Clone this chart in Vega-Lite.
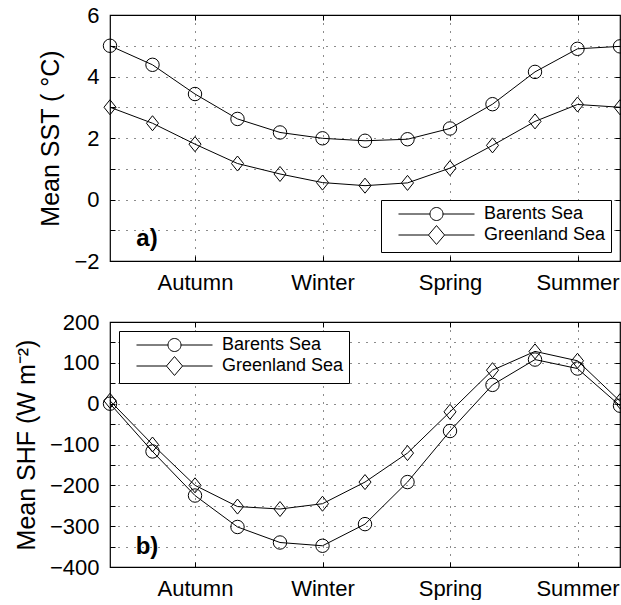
{
  "$schema": "https://vega.github.io/schema/vega-lite/v6.json",
  "padding": {"left": 13, "top": 3, "right": 0, "bottom": 0},
  "background": "white",
  "spacing": 16,
  "config": {
    "font": "Liberation Sans",
    "view": {"stroke": "black", "strokeWidth": 1.2},
    "axis": {
      "domain": false, "grid": true, "gridColor": "black", "gridDash": [1, 7], "gridOpacity": 0.9, "gridWidth": 1,
      "ticks": false, "tickColor": "black", "tickWidth": 1,
      "labelFont": "Liberation Sans", "labelFontSize": 22, "labelColor": "black", "labelPadding": 11,
      "titleFont": "Liberation Sans", "titleFontSize": 25, "titleFontWeight": "normal", "titleColor": "black", "titlePadding": 10
    },
    "legend": {
      "title": null, "fillColor": "white", "strokeColor": "black", "padding": 5,
      "labelFont": "Liberation Sans", "labelFontSize": 18, "labelColor": "black",
      "symbolSize": 196, "symbolStrokeWidth": 1, "symbolStrokeColor": "black", "symbolFillColor": "transparent",
      "symbolOpacity": 1, "symbolOffset": 41.5, "labelOffset": 38.5, "rowPadding": 0, "offset": 9
    }
  },
  "vconcat": [
    {
      "width": 510, "height": 246,
      "layer": [
        {
          "data": {"values": [
            {"month": 0, "sea": "Barents Sea", "value": 5.0},
            {"month": 1, "sea": "Barents Sea", "value": 4.38},
            {"month": 2, "sea": "Barents Sea", "value": 3.43},
            {"month": 3, "sea": "Barents Sea", "value": 2.62},
            {"month": 4, "sea": "Barents Sea", "value": 2.18},
            {"month": 5, "sea": "Barents Sea", "value": 1.99},
            {"month": 6, "sea": "Barents Sea", "value": 1.91},
            {"month": 7, "sea": "Barents Sea", "value": 1.96},
            {"month": 8, "sea": "Barents Sea", "value": 2.31},
            {"month": 9, "sea": "Barents Sea", "value": 3.1},
            {"month": 10, "sea": "Barents Sea", "value": 4.15},
            {"month": 11, "sea": "Barents Sea", "value": 4.9},
            {"month": 12, "sea": "Barents Sea", "value": 4.98},
            {"month": 0, "sea": "Greenland Sea", "value": 3.0},
            {"month": 1, "sea": "Greenland Sea", "value": 2.48},
            {"month": 2, "sea": "Greenland Sea", "value": 1.8},
            {"month": 3, "sea": "Greenland Sea", "value": 1.17},
            {"month": 4, "sea": "Greenland Sea", "value": 0.83},
            {"month": 5, "sea": "Greenland Sea", "value": 0.55},
            {"month": 6, "sea": "Greenland Sea", "value": 0.45},
            {"month": 7, "sea": "Greenland Sea", "value": 0.54},
            {"month": 8, "sea": "Greenland Sea", "value": 1.02},
            {"month": 9, "sea": "Greenland Sea", "value": 1.76},
            {"month": 10, "sea": "Greenland Sea", "value": 2.54},
            {"month": 11, "sea": "Greenland Sea", "value": 3.09},
            {"month": 12, "sea": "Greenland Sea", "value": 3.0}
          ]},
          "encoding": {
            "x": {"field": "month", "type": "quantitative", "scale": {"domain": [0, 12], "nice": false, "zero": false},
                  "axis": {"values": [2, 5, 8, 11], "title": null, "labelExpr": "['','','Autumn','','','Winter','','','Spring','','','Summer'][datum.value]"}},
            "y": {"field": "value", "type": "quantitative", "scale": {"domain": [-2, 6], "nice": false, "zero": false},
                  "axis": {"values": [-2, -1, 0, 1, 2, 3, 4, 5, 6], "title": "Mean SST ( °C)", "labelExpr": "datum.value % 2 == 0 ? datum.label : ''"}}
          },
          "layer": [
            {"mark": {"type": "line", "color": "black", "strokeWidth": 1}, "encoding": {"detail": {"field": "sea"}}},
            {"mark": {"type": "point", "filled": false, "color": "black", "strokeWidth": 1, "size": 180, "opacity": 1},
             "encoding": {"shape": {"field": "sea", "type": "nominal",
               "scale": {"domain": ["Barents Sea", "Greenland Sea"], "range": ["circle", "M0,-1.12L0.9,0L0,1.12L-0.9,0Z"]},
               "legend": null}}},
            {"mark": {"type": "point", "filled": false, "color": "black", "strokeWidth": 1, "opacity": 0},
             "encoding": {"shape": {"field": "sea", "type": "nominal",
               "scale": {"domain": ["Barents Sea", "Greenland Sea"], "range": ["M-5.43,0L-0.93,0M0.93,0L5.43,0M0.93,0A0.93,0.93,0,1,1,-0.93,0A0.93,0.93,0,1,1,0.93,0Z", "M-5.43,0L-1.15,0M1.15,0L5.43,0M0,-1.35L1.15,0L0,1.35L-1.15,0Z"]},
               "legend": {"orient": "bottom-right", "symbolOpacity": 1}}}}
          ],
          "resolve": {"scale": {"shape": "independent"}}
        },
        {"mark": {"type": "rule", "color": "black", "strokeWidth": 1},
         "encoding": {"x": {"datum": 11, "type": "quantitative",
           "axis": {"orient": "top", "values": [2, 5, 8, 11], "labels": false, "grid": false, "ticks": true, "tickSize": -5, "title": null}}}},
        {"mark": {"type": "rule", "color": "black", "strokeWidth": 1},
         "encoding": {"y": {"datum": 0, "type": "quantitative",
           "axis": {"orient": "right", "values": [-2, -1, 0, 1, 2, 3, 4, 5, 6], "labels": false, "grid": false, "ticks": true, "tickSize": -5, "title": null}}}},
        {
          "data": {"values": [{"x": 0.87, "y": -1.3, "label": "a)"}]},
          "mark": {"type": "text", "fontSize": 24, "fontWeight": "bold", "align": "center", "baseline": "middle", "color": "black"},
          "encoding": {
            "x": {"field": "x", "type": "quantitative",
              "axis": {"orient": "bottom", "values": [2, 5, 8, 11], "labels": false, "grid": false, "ticks": true, "tickSize": -5, "title": null}},
            "y": {"field": "y", "type": "quantitative",
              "axis": {"orient": "left", "values": [-2, -1, 0, 1, 2, 3, 4, 5, 6], "labels": false, "grid": false, "ticks": true, "tickSize": -5, "title": null}},
            "text": {"field": "label"}}
        }
      ],
      "resolve": {"axis": {"x": "independent", "y": "independent"}}
    },
    {
      "width": 510, "height": 245,
      "layer": [
        {
          "data": {"values": [
            {"month": 0, "sea": "Barents Sea", "value": 0},
            {"month": 1, "sea": "Barents Sea", "value": -117},
            {"month": 2, "sea": "Barents Sea", "value": -225},
            {"month": 3, "sea": "Barents Sea", "value": -302},
            {"month": 4, "sea": "Barents Sea", "value": -340},
            {"month": 5, "sea": "Barents Sea", "value": -348},
            {"month": 6, "sea": "Barents Sea", "value": -295},
            {"month": 7, "sea": "Barents Sea", "value": -192},
            {"month": 8, "sea": "Barents Sea", "value": -67},
            {"month": 9, "sea": "Barents Sea", "value": 46},
            {"month": 10, "sea": "Barents Sea", "value": 108},
            {"month": 11, "sea": "Barents Sea", "value": 86},
            {"month": 12, "sea": "Barents Sea", "value": -5},
            {"month": 0, "sea": "Greenland Sea", "value": 7},
            {"month": 1, "sea": "Greenland Sea", "value": -100},
            {"month": 2, "sea": "Greenland Sea", "value": -200},
            {"month": 3, "sea": "Greenland Sea", "value": -252},
            {"month": 4, "sea": "Greenland Sea", "value": -258},
            {"month": 5, "sea": "Greenland Sea", "value": -245},
            {"month": 6, "sea": "Greenland Sea", "value": -192},
            {"month": 7, "sea": "Greenland Sea", "value": -121},
            {"month": 8, "sea": "Greenland Sea", "value": -20},
            {"month": 9, "sea": "Greenland Sea", "value": 82},
            {"month": 10, "sea": "Greenland Sea", "value": 128},
            {"month": 11, "sea": "Greenland Sea", "value": 105},
            {"month": 12, "sea": "Greenland Sea", "value": 6}
          ]},
          "encoding": {
            "x": {"field": "month", "type": "quantitative", "scale": {"domain": [0, 12], "nice": false, "zero": false},
                  "axis": {"values": [2, 5, 8, 11], "title": null, "labelExpr": "['','','Autumn','','','Winter','','','Spring','','','Summer'][datum.value]"}},
            "y": {"field": "value", "type": "quantitative", "scale": {"domain": [-400, 200], "nice": false, "zero": false},
                  "axis": {"values": [-400, -350, -300, -250, -200, -150, -100, -50, 0, 50, 100, 150, 200], "title": "Mean SHF (W m⁻²)", "labelExpr": "datum.value % 100 == 0 ? datum.label : ''"}}
          },
          "layer": [
            {"mark": {"type": "line", "color": "black", "strokeWidth": 1}, "encoding": {"detail": {"field": "sea"}}},
            {"mark": {"type": "point", "filled": false, "color": "black", "strokeWidth": 1, "size": 180, "opacity": 1},
             "encoding": {"shape": {"field": "sea", "type": "nominal",
               "scale": {"domain": ["Barents Sea", "Greenland Sea"], "range": ["circle", "M0,-1.12L0.9,0L0,1.12L-0.9,0Z"]},
               "legend": null}}},
            {"mark": {"type": "point", "filled": false, "color": "black", "strokeWidth": 1, "opacity": 0},
             "encoding": {"shape": {"field": "sea", "type": "nominal",
               "scale": {"domain": ["Barents Sea", "Greenland Sea"], "range": ["M-5.43,0L-0.93,0M0.93,0L5.43,0M0.93,0A0.93,0.93,0,1,1,-0.93,0A0.93,0.93,0,1,1,0.93,0Z", "M-5.43,0L-1.15,0M1.15,0L5.43,0M0,-1.35L1.15,0L0,1.35L-1.15,0Z"]},
               "legend": {"orient": "top-left", "symbolOpacity": 1}}}}
          ],
          "resolve": {"scale": {"shape": "independent"}}
        },
        {"mark": {"type": "rule", "color": "black", "strokeWidth": 1},
         "encoding": {"x": {"datum": 11, "type": "quantitative",
           "axis": {"orient": "top", "values": [2, 5, 8, 11], "labels": false, "grid": false, "ticks": true, "tickSize": -5, "title": null}}}},
        {"mark": {"type": "rule", "color": "black", "strokeWidth": 1},
         "encoding": {"y": {"datum": 0, "type": "quantitative",
           "axis": {"orient": "right", "values": [-400, -350, -300, -250, -200, -150, -100, -50, 0, 50, 100, 150, 200], "labels": false, "grid": false, "ticks": true, "tickSize": -5, "title": null}}}},
        {
          "data": {"values": [{"x": 0.87, "y": -350, "label": "b)"}]},
          "mark": {"type": "text", "fontSize": 24, "fontWeight": "bold", "align": "center", "baseline": "middle", "color": "black"},
          "encoding": {
            "x": {"field": "x", "type": "quantitative",
              "axis": {"orient": "bottom", "values": [2, 5, 8, 11], "labels": false, "grid": false, "ticks": true, "tickSize": -5, "title": null}},
            "y": {"field": "y", "type": "quantitative",
              "axis": {"orient": "left", "values": [-400, -350, -300, -250, -200, -150, -100, -50, 0, 50, 100, 150, 200], "labels": false, "grid": false, "ticks": true, "tickSize": -5, "title": null}},
            "text": {"field": "label"}}
        }
      ],
      "resolve": {"axis": {"x": "independent", "y": "independent"}}
    }
  ],
  "resolve": {"scale": {"shape": "independent"}, "legend": {"shape": "independent"}}
}
